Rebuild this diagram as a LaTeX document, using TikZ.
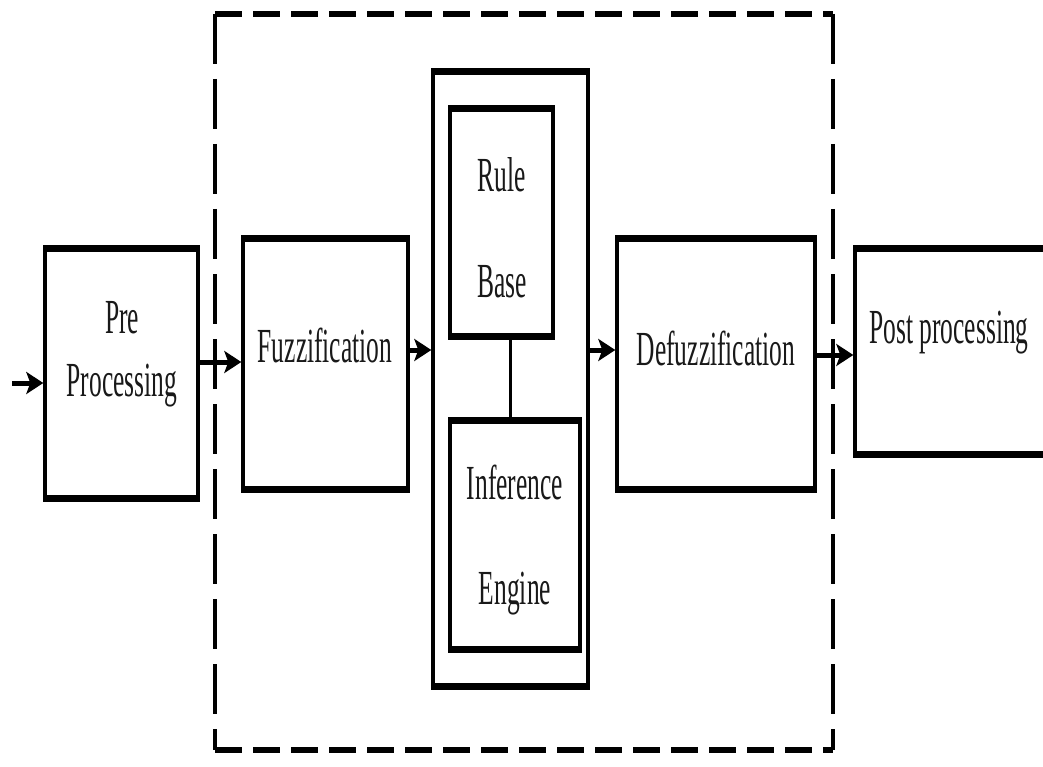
\documentclass[tikz,border=0pt]{standalone}
\usepackage{fontspec}
\setmainfont{Liberation Serif}
\usetikzlibrary{arrows.meta}
\newcommand{\cnd}[1]{\scalebox{0.52}[1]{#1}}
\tikzset{
  boxst/.style={draw=black, line width=3.4pt, minimum width=#1, inner sep=0pt, rectangle},
  hthick/.style={line width=6pt},
  txt/.style={font=\fontsize{49}{56}\selectfont, text=black!90, inner sep=0pt, align=center},
  arr/.style={line width=5pt, -{Stealth[length=17pt,width=22pt,inset=4pt]}},
  framestH/.style={line width=6pt, dash pattern=on 27pt off 11pt},
  framestV/.style={line width=4pt, dash pattern=on 50pt off 15pt},
}
\begin{document}
\begin{tikzpicture}[x=1pt,y=-1pt]
\useasboundingbox (0,0) rectangle (1043,767);
\begin{scope}
\clip (0,0) rectangle (1043,767);
% dashed frame
\coordinate (fTL) at (215,14);
\coordinate (fTR) at (833,14);
\coordinate (fBL) at (215,750);
\coordinate (fBR) at (833,750);
\draw[framestH] (fTL) -- (fTR);
\draw[framestH] (fBL) -- (fBR);
\draw[framestV] (fTL) -- (fBL);
\draw[framestV] (fTR) -- (fBR);

% boxes
\node[boxst=153pt, minimum height=247pt] (pre) at (121.5,373.5) {};
\node[boxst=165pt, minimum height=248pt] (fuzz) at (325.5,364) {};
\node[boxst=155pt, minimum height=612pt] (outer) at (510.5,379) {};
\node[boxst=103pt, minimum height=225pt] (rule) at (501.5,222.5) {};
\node[boxst=130pt, minimum height=226pt] (infer) at (515,535) {};
\node[boxst=198pt, minimum height=248pt] (defuzz) at (716,364) {};
\node[boxst=215pt, minimum height=203pt] (post) at (962.5,351.5) {};

% thicker horizontal edges
\foreach \n in {pre,fuzz,outer,rule,infer,defuzz,post}{
  \draw[hthick] (\n.north west) -- (\n.north east);
  \draw[hthick] (\n.south west) -- (\n.south east);
}

% texts
\node[txt] (preT1) at (122,318) {\cnd{Pre}};
\node[txt] (preT2) at (122,386) {\cnd{Processing}};
\node[txt] (fuzzT) at (325,345) {\cnd{Fuzzification}};
\node[txt] (ruleT1) at (502,175) {\cnd{Rule}};
\node[txt] (ruleT2) at (502,282) {\cnd{Base}};
\node[txt] (inferT1) at (515,482) {\cnd{Inference}};
\node[txt] (inferT2) at (515,594) {\cnd{Engine}};
\node[txt] (defuzzT) at (716,348) {\cnd{Defuzzification}};
\node[txt] (postT) at (949,333) {\cnd{Post processing}};

% connectors
\coordinate (inp) at (12,383);
\draw[arr] (inp) -- (pre.west |- inp);
\draw[arr] (pre.east |- 0,362) -- (fuzz.west |- 0,362);
\draw[arr] (fuzz.east |- 0,350) -- (outer.west |- 0,350);
\draw[arr] (outer.east |- 0,350) -- (defuzz.west |- 0,350);
\draw[arr] (defuzz.east |- 0,355) -- (post.west |- 0,355);
\draw[line width=3pt] (rule.south -| 510,0) -- (infer.north -| 510,0);
\end{scope}
\end{tikzpicture}
\end{document}
